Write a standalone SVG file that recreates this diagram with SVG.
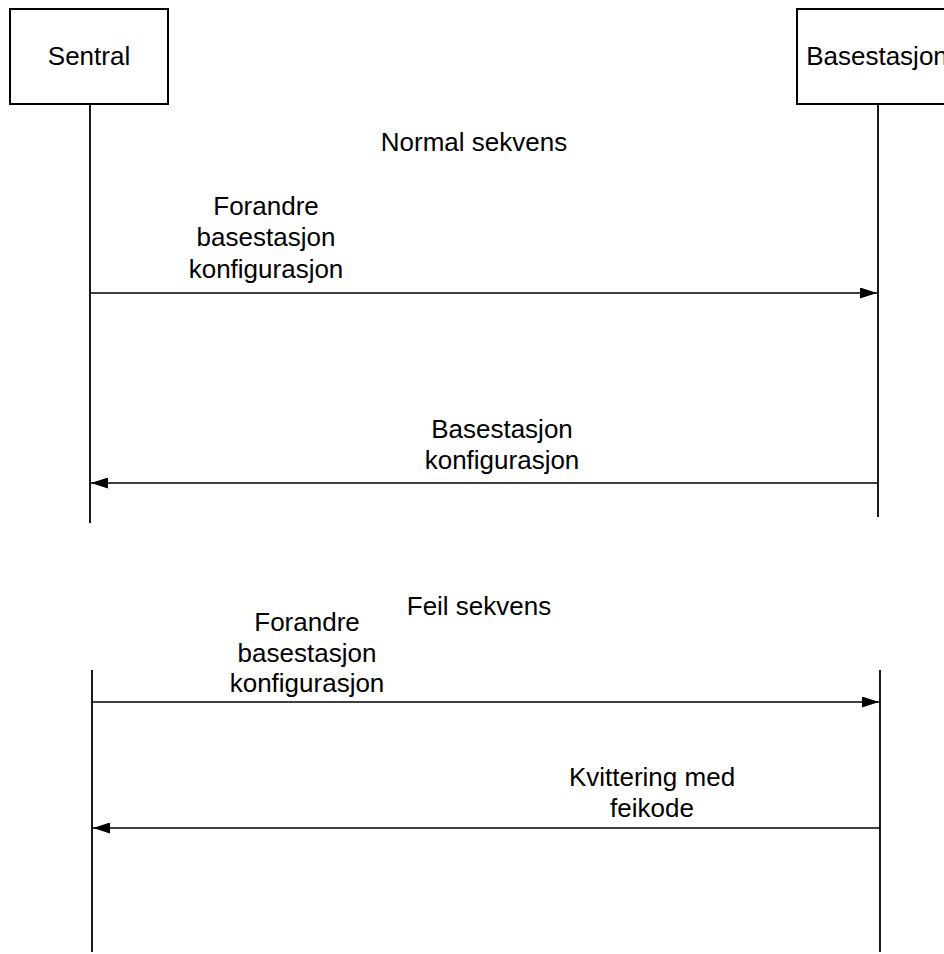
<svg xmlns="http://www.w3.org/2000/svg" width="944" height="954" viewBox="0 0 944 954">
  <style>
    text { font-family: "Liberation Sans", Arial, sans-serif; font-size: 26px; fill: #000; text-anchor: middle; }
    .box { fill: #fff; stroke: #000; stroke-width: 2; }
    .life { stroke: #000; stroke-width: 1.8; fill: none; }
    .msg { stroke: #000; stroke-width: 1.5; fill: none; marker-end: url(#head); }
  </style>
  <defs>
    <marker id="head" viewBox="0 0 17 11" refX="17" refY="5.5" markerWidth="17" markerHeight="11" markerUnits="userSpaceOnUse" orient="auto">
      <path d="M0,0 L17,5.5 L0,11 Z" fill="#000"/>
    </marker>
  </defs>
  <rect width="944" height="954" fill="#fff"/>

  <!-- participants -->
  <g id="sentral">
    <rect class="box" x="10" y="9" width="158" height="95"/>
    <text x="89" y="65">Sentral</text>
  </g>
  <g id="basestasjon">
    <rect class="box" x="797" y="9" width="162" height="95"/>
    <text x="877" y="65">Basestasjon</text>
  </g>

  <!-- lifelines and messages -->
  <g id="connectors">
    <line class="life" x1="90" y1="104" x2="90" y2="523"/>
    <line class="life" x1="878" y1="104" x2="878" y2="517"/>
    <line class="life" x1="92" y1="670" x2="92" y2="952"/>
    <line class="life" x1="880" y1="670" x2="880" y2="952"/>

    <line class="msg" x1="90" y1="293" x2="877" y2="293"/>
    <line class="msg" x1="878" y1="483" x2="91" y2="483"/>
    <line class="msg" x1="92" y1="702" x2="879" y2="702"/>
    <line class="msg" x1="880" y1="828" x2="93" y2="828"/>
  </g>

  <!-- section titles -->
  <g id="normal-title">
    <text x="474" y="151">Normal sekvens</text>
  </g>
  <g id="feil-title">
    <text x="479" y="615">Feil sekvens</text>
  </g>

  <!-- message labels -->
  <g id="msg1-label">
    <text x="266" y="215">Forandre</text>
    <text x="266" y="246">basestasjon</text>
    <text x="266" y="278">konfigurasjon</text>
  </g>
  <g id="msg2-label">
    <text x="502" y="438">Basestasjon</text>
    <text x="502" y="469">konfigurasjon</text>
  </g>
  <g id="msg3-label">
    <text x="307" y="631">Forandre</text>
    <text x="307" y="662">basestasjon</text>
    <text x="307" y="692">konfigurasjon</text>
  </g>
  <g id="msg4-label">
    <text x="652" y="786">Kvittering med</text>
    <text x="652" y="817">feikode</text>
  </g>
</svg>
